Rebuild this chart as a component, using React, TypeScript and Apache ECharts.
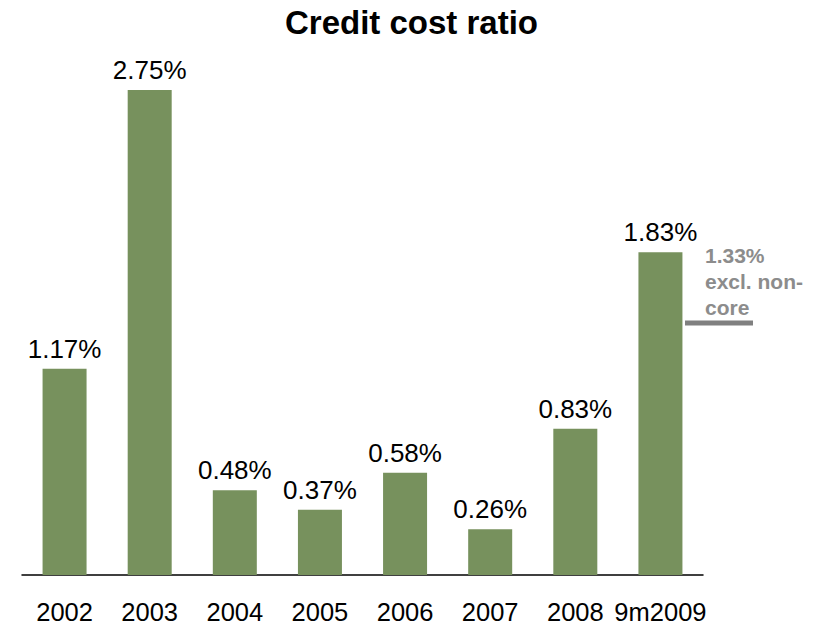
import React, { useEffect, useRef } from "react";
import * as echarts from "echarts";

const categories = ["2002", "2003", "2004", "2005", "2006", "2007", "2008", "9m2009"];
const values = [1.17, 2.75, 0.48, 0.37, 0.58, 0.26, 0.83, 1.83];
const titleText = "Credit cost ratio";
const noteLines = ["1.33%", "excl. non-", "core"];

const FONT = "'Liberation Sans', Arial, Helvetica, sans-serif";

export default function App() {
  const ref = useRef<HTMLDivElement>(null);
  useEffect(() => {
    document.body.style.margin = "0";
    const chart = echarts.init(ref.current!, null, { renderer: "svg" });
    chart.setOption({
      animation: false,
      backgroundColor: "#ffffff",
      title: {
        text: titleText,
        left: "center",
        top: 1,
        textStyle: { fontFamily: FONT, fontSize: 33, fontWeight: "bold", color: "#000" },
      },
      grid: { left: 22, right: 120, top: 46, bottom: 52 },
      xAxis: {
        type: "category",
        data: categories,
        axisLine: { show: true, lineStyle: { color: "#000", width: 1.5 } },
        axisTick: { show: false },
        axisLabel: { fontFamily: FONT, fontSize: 25.5, color: "#000", margin: 24, interval: 0 },
      },
      yAxis: {
        type: "value",
        min: 0,
        max: 3,
        show: false,
        splitLine: { show: false },
      },
      series: [
        {
          type: "bar",
          data: values,
          barWidth: 44,
          itemStyle: { color: "#77915d" },
          label: {
            show: true,
            position: "top",
            distance: 7,
            formatter: (p: any) => p.value.toFixed(2) + "%",
            fontFamily: FONT,
            fontSize: 26,
            color: "#000",
          },
        },
      ],
      graphic: [
        {
          type: "text",
          left: 705,
          top: 242,
          style: {
            text: noteLines.join("\n"),
            fontFamily: FONT,
            fontSize: 21,
            fontWeight: "bold",
            lineHeight: 26,
            fill: "#8c8c8c",
          },
        },
        {
          type: "line",
          shape: { x1: 685, y1: 323, x2: 753, y2: 323 },
          style: { stroke: "#808080", lineWidth: 5 },
        },
      ],
    });
    return () => chart.dispose();
  }, []);
  return <div ref={ref} style={{ width: 823, height: 627 }} />;
}
